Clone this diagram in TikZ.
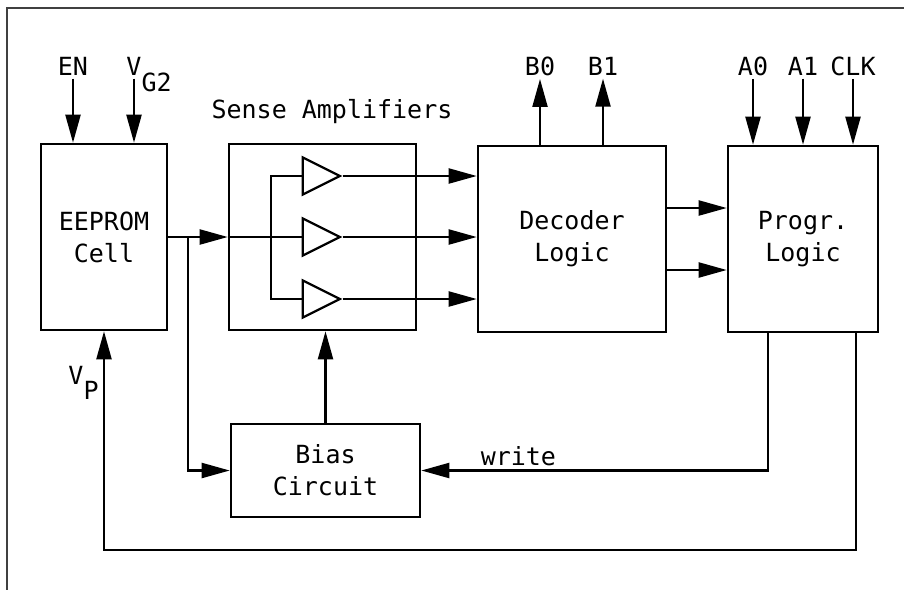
\documentclass[tikz,border=0pt]{standalone}
\usepackage{fontspec}
\setmonofont{DejaVu Sans Mono}
\usepackage{tikz}
\usetikzlibrary{arrows.meta,shapes.geometric,positioning,calc}
\newcommand{\lblfont}{\ttfamily\fontsize{25}{32}\selectfont}

\begin{document}
\begin{tikzpicture}[x=1pt, y=-1pt,
    blk/.style={rectangle, draw, line width=2.6pt, align=center, font=\lblfont, inner sep=0pt},
    amp/.style={isosceles triangle, isosceles triangle stretches, draw, line width=2.2pt, minimum width=37pt, minimum height=37pt, inner sep=0pt},
    lbl/.style={font=\lblfont},
    arr/.style={-{Triangle[length=28pt, width=15pt]}, line width=2.2pt},
    wire/.style={line width=2.2pt},
]
\useasboundingbox (0,0) rectangle (904,590);
% Frame
\draw[black!75, line width=1.5pt] (904,8) -- (7,8) -- (7,590);
% Blocks
\node[blk, minimum width=126pt, minimum height=186pt] (eeprom) at (104,237)   {EEPROM\\Cell};
\node[blk, minimum width=187pt, minimum height=186pt] (sense)  at (322.5,237) {};
\node[blk, minimum width=188pt, minimum height=186pt] (dec)    at (572,239)   {Decoder\\Logic};
\node[blk, minimum width=150pt, minimum height=186pt] (prog)   at (803,239)   {Progr.\\Logic};
\node[blk, minimum width=189pt, minimum height=93pt]  (bias)   at (325.5,470.5) {Bias\\Circuit};
\node[lbl] (sensettl) at (332,112) {Sense Amplifiers};
% Amplifiers
\node[amp, anchor=west] (amp1) at ($(sense.west)+(74,-61)$) {};
\node[amp, anchor=west] (amp2) at ($(sense.west)+(74,0)$)   {};
\node[amp, anchor=west] (amp3) at ($(sense.west)+(74,62)$)  {};
% Labels
\node[lbl] (en)  at (73,66)  {EN};
\node[lbl] (vg2) at (134,66) {V\rlap{\smash{\raisebox{-16pt}{G2}}}};
\node[lbl] (vp)  at (76,375) {V\rlap{\smash{\raisebox{-15pt}{P}}}};
\node[lbl] (b0)  at (540,66) {B0};
\node[lbl] (b1)  at (603,66) {B1};
\node[lbl] (a0)  at (753,66) {A0};
\node[lbl] (a1)  at (803,66) {A1};
\node[lbl] (clk) at (853,66) {CLK};
% Inputs and outputs
\draw[arr] (en.south)  -- (en.south |- eeprom.north);
\draw[arr] (vg2.south) -- (vg2.south |- eeprom.north);
\draw[arr] (b0.south |- dec.north) -- (b0.south);
\draw[arr] (b1.south |- dec.north) -- (b1.south);
\draw[arr] (a0.south)  -- (a0.south |- prog.north);
\draw[arr] (a1.south)  -- (a1.south |- prog.north);
\draw[arr] (clk.south) -- (clk.south |- prog.north);
% Cell to amplifiers
\coordinate (split) at ($(eeprom.east)+(20,0)$);
\draw[arr] (eeprom.east) -- (eeprom.east -| sense.west);
\draw[wire] (eeprom.east -| sense.west) -- (amp2.west);
\draw[wire] (amp1.west) -- ++(-31,0) |- (amp3.west);
\draw[arr] (amp1.apex) -- (amp1.apex -| dec.west);
\draw[arr] (amp2.apex) -- (amp2.apex -| dec.west);
\draw[arr] (amp3.apex) -- (amp3.apex -| dec.west);
% Decoder to programming logic
\draw[arr] ([yshift=31pt]dec.east)  -- ([yshift=31pt]dec.east -| prog.west);
\draw[arr] ([yshift=-31pt]dec.east) -- ([yshift=-31pt]dec.east -| prog.west);
% Bias circuit
\draw[arr] (split) |- (bias.west);
\draw[arr] (bias.north) -- (bias.north |- sense.south);
\draw[arr] ([xshift=-35pt]prog.south) |- node[lbl, pos=0.86, above] (wrlbl) {write} (bias.east);
% V_P feedback
\draw[arr] ([xshift=53pt]prog.south) -- ++(0,217) -| (eeprom.south);
\end{tikzpicture}
\end{document}
